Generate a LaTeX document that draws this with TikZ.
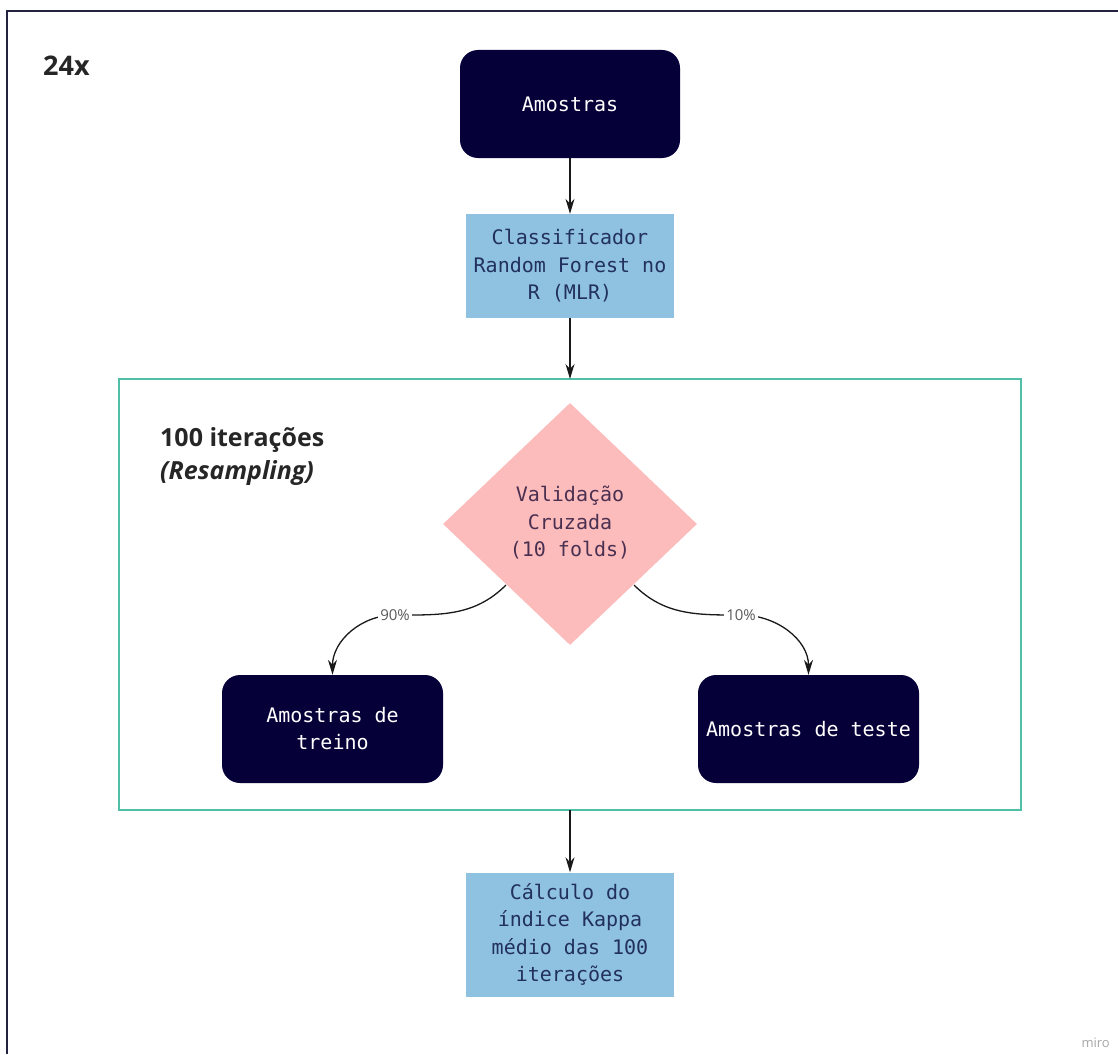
\documentclass[tikz,border=0pt]{standalone}
\usepackage{fontspec}
\setmainfont{Open Sans}
\newfontfamily\monof{DejaVu Sans Mono}
\usetikzlibrary{shapes.geometric,arrows.meta}
\definecolor{navy}{HTML}{050038}
\definecolor{lblue}{HTML}{8FC1E0}
\definecolor{lpink}{HTML}{FDBCBC}
\definecolor{teal}{HTML}{4FBFA8}
\definecolor{frame}{HTML}{23233F}
\definecolor{btext}{HTML}{22305E}
\definecolor{ptext}{HTML}{4A3050}
\tikzset{
  darkbox/.style={draw=none, fill=navy, rounded corners=18pt, text=white, align=center,
    font=\monof\fontsize{20}{27}\selectfont, inner sep=0pt},
  bluebox/.style={draw=none, fill=lblue, text=btext, align=center,
    font=\monof\fontsize{20}{27.5}\selectfont, inner sep=0pt},
  arr/.style={draw=black!90, line width=1.3pt, -{Stealth[length=15pt,width=9pt]}},
  pct/.style={fill=white, text=black!65, font=\fontsize{15}{17}\selectfont, inner sep=2pt},
}
\begin{document}
\begin{tikzpicture}[x=1pt,y=-1pt]
\useasboundingbox (0,0) rectangle (1118,1054);
% outer frame (top and left only visible)
\draw[frame, line width=2.6pt] (7,1054) -- (7,11) -- (1118,11);
\node[anchor=base west, font=\bfseries\fontsize{27}{30}\selectfont, text=black!85, inner sep=0pt] (rep) at (43,76) {24x};
% green frame
\draw[teal, line width=2.4pt] (119,379) rectangle (1021,810);
\coordinate (gtop) at (570,379);
\coordinate (gbot) at (570,810);
\node[anchor=base west, font=\bfseries\fontsize{25}{28}\selectfont, text=black!85, inner sep=0pt] (iter) at (160,446) {100 iterações};
\node[anchor=base west, font=\bfseries\itshape\fontsize{25}{28}\selectfont, text=black!85, inner sep=0pt] (resamp) at (160,479) {(Resampling)};
% nodes
\node[darkbox, minimum width=220pt, minimum height=108pt] (amostras) at (570,104) {Amostras};
\node[bluebox, minimum width=208pt, minimum height=104pt] (classif) at (570,266) {Classificador\\Random Forest no\\R (MLR)};
\node[diamond, fill=lpink, draw=none, minimum width=254pt, minimum height=242pt, inner sep=0pt,
  text=ptext, align=center, font=\monof\fontsize{20}{27.5}\selectfont] (valid) at (570,524) {};
\node[text=ptext, align=center, font=\monof\fontsize{20}{27.5}\selectfont, inner sep=0pt] (validtxt) at (570,523) {Validação\\Cruzada\\(10 folds)};
\node[darkbox, minimum width=221pt, minimum height=108pt] (treino) at (332.5,729) {Amostras de\\treino};
\node[darkbox, minimum width=221pt, minimum height=108pt] (teste) at (808.5,729) {Amostras de teste};
\node[bluebox, minimum width=208pt, minimum height=124pt] (calc) at (570,934.5) {Cálculo do\\índice Kappa\\médio das 100\\iterações};
% connectors
\draw[arr] (amostras.south) -- (classif.north);
\draw[arr] (classif.south) -- (gtop);
\draw[arr] (gbot) -- (calc.north);
\coordinate (s1) at (506,585);
\coordinate (s2) at (634,585);
\coordinate (l1) at (395,615);
\coordinate (l2) at (741,615);
\draw[arr] (s1) to[out=-135,in=0] (l1) to[out=180,in=90] (treino.north);
\draw[arr] (s2) to[out=-45,in=180] (l2) to[out=0,in=90] (teste.north);
\node[pct] (p90) at (l1) {90\%};
\node[pct] (p10) at (l2) {10\%};
\node[anchor=base east, text=black!35, font=\fontsize{13}{14}\selectfont, inner sep=0pt] (miro) at (1110,1047) {miro};
\end{tikzpicture}
\end{document}
